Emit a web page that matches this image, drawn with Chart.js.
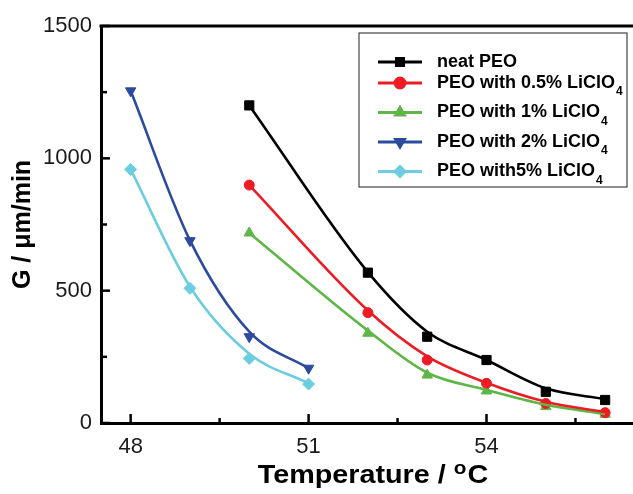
<!DOCTYPE html>
<html>
<head>
<meta charset="utf-8">
<script src="https://cdn.jsdelivr.net/npm/chart.js@4.4.0/dist/chart.umd.min.js"></script>
<style>
  html, body { margin: 0; padding: 0; background: #fff; }
  #wrap { width: 633px; height: 494px; }
</style>
</head>
<body>
<div id="wrap"><canvas id="growth"></canvas></div>
<script>
// spherulite growth rate G (um/min) vs crystallization temperature
// *G = measured points, *Fit = smoothed curve read at the same temperatures
const neatT = [50, 52, 53, 54, 55, 56];
const neatG = [1200, 568, 326, 238, 118, 87];
const neatFit = [1200, 570, 345, 238, 131, 90];
const li05T = [50, 52, 53, 54, 55, 56];
const li05G = [899, 417, 238, 150, 74, 39];
const li05Fit = [899, 425, 252, 152, 80, 41];
const li1T = [50, 52, 53, 54, 55, 56];
const li1G = [718, 339, 181, 121, 62, 33];
const li1Fit = [718, 349, 190, 125, 69, 34];
const li2T = [48, 49, 50, 51];
const li2G = [1255, 689, 326, 207];
const li2Fit = [1255, 690, 345, 207];
const li5T = [48, 49, 50, 51];
const li5G = [958, 509, 244, 147];
const li5Fit = [958, 515, 262, 150];

const xTicks = [48, 49.5, 51, 52.5, 54, 55.5];
const xLabels = [48, 51, 54];
const yTicks = [0, 250, 500, 750, 1000, 1250, 1500];
const yLabels = [0, 500, 1000, 1500];

function pts(xs, ys) {
  return xs.map((x, i) => ({ x: x, y: ys[i] }));
}

function fitLine(label, xs, ys, color) {
  return {
    label: label + ' fit',
    data: pts(xs, ys),
    borderColor: color,
    borderWidth: 2.6,
    pointRadius: 0,
    cubicInterpolationMode: 'monotone',
    fill: false,
    isFit: true
  };
}

function markers(label, xs, ys, color, style, rotation, radius) {
  return {
    label: label,
    data: pts(xs, ys),
    borderColor: color,
    backgroundColor: color,
    showLine: false,
    pointStyle: style,
    pointRotation: rotation,
    pointRadius: radius,
    pointBorderWidth: 1
  };
}

const datasets = [
  fitLine('neat PEO', neatT, neatFit, '#000000'),
  fitLine('PEO with 0.5% LiClO₄', li05T, li05Fit, '#ec1c24'),
  fitLine('PEO with 1% LiClO₄', li1T, li1Fit, '#5db645'),
  fitLine('PEO with 2% LiClO₄', li2T, li2Fit, '#2c4a9e'),
  fitLine('PEO with5% LiClO₄', li5T, li5Fit, '#6ccde0'),
  markers('neat PEO', neatT, neatG, '#000000', 'rect', 0, 6.5),
  markers('PEO with 0.5% LiClO₄', li05T, li05G, '#ec1c24', 'circle', 0, 5),
  markers('PEO with 1% LiClO₄', li1T, li1G, '#5db645', 'triangle', 0, 6),
  markers('PEO with 2% LiClO₄', li2T, li2G, '#2c4a9e', 'triangle', 180, 6),
  markers('PEO with5% LiClO₄', li5T, li5G, '#6ccde0', 'rectRot', 0, 6)
];

// inward ticks, top frame line, x title with superscript and boxed legend
const frame = {
  id: 'frame',
  afterDraw(chart) {
    const ctx = chart.ctx;
    const area = chart.chartArea;
    const xs = chart.scales.x;
    const ys = chart.scales.y;
    ctx.save();
    ctx.strokeStyle = '#000';
    ctx.lineWidth = 3;
    ctx.beginPath();
    ctx.moveTo(area.left - 1.5, area.top);
    ctx.lineTo(area.right, area.top);
    ctx.stroke();

    ctx.lineWidth = 2.5;
    xTicks.forEach(v => {
      const px = xs.getPixelForValue(v);
      const len = xLabels.includes(v) ? 9 : 5;
      ctx.beginPath();
      ctx.moveTo(px, area.bottom);
      ctx.lineTo(px, area.bottom - len);
      ctx.stroke();
    });
    yTicks.forEach(v => {
      const py = ys.getPixelForValue(v);
      const len = yLabels.includes(v) ? 9 : 6;
      ctx.beginPath();
      ctx.moveTo(area.left, py);
      ctx.lineTo(area.left + len, py);
      ctx.stroke();
    });

    // x axis title
    ctx.fillStyle = '#000';
    ctx.textBaseline = 'alphabetic';
    ctx.textAlign = 'left';
    const big = 'bold 25px Arial, "Liberation Sans", sans-serif';
    const small = 'bold 18px Arial, "Liberation Sans", sans-serif';
    ctx.font = big;
    const w1 = ctx.measureText('Temperature / ').width;
    const w3 = ctx.measureText('C').width;
    ctx.font = small;
    const w2 = ctx.measureText('o').width;
    const sx = 1.15;
    const total = (w1 + w2 + 1 + w3) * sx;
    const cx = (area.left + area.right) / 2 + 6;
    ctx.translate(cx - total / 2, 483);
    ctx.scale(sx, 1);
    ctx.font = big;
    ctx.fillText('Temperature / ', 0, 0);
    ctx.font = small;
    ctx.fillText('o', w1, -9);
    ctx.font = big;
    ctx.fillText('C', w1 + w2 + 1, 0);
    ctx.restore();

    // legend
    ctx.save();
    const bx = area.right - 274, by = area.top + 7, bw = 268, bh = 154;
    ctx.fillStyle = '#fff';
    ctx.fillRect(bx, by, bw, bh);
    ctx.strokeStyle = '#444';
    ctx.lineWidth = 1.2;
    ctx.strokeRect(bx, by, bw, bh);
    let ry = by + 29;
    chart.data.datasets.filter(ds => !ds.isFit).forEach(ds => {
      const hasSub = ds.label.endsWith('₄');
      const text = hasSub ? ds.label.slice(0, -1) : ds.label;
      ctx.strokeStyle = ds.borderColor;
      ctx.fillStyle = ds.borderColor;
      ctx.lineWidth = 3;
      ctx.beginPath();
      ctx.moveTo(bx + 19, ry);
      ctx.lineTo(bx + 63, ry);
      ctx.stroke();
      Chart.helpers.drawPoint(ctx, {
        pointStyle: ds.pointStyle,
        rotation: ds.pointRotation,
        radius: 5,
        borderWidth: 1
      }, bx + 41, ry);
      ctx.fillStyle = '#000';
      ctx.font = 'bold 18px Arial, "Liberation Sans", sans-serif';
      ctx.textBaseline = 'middle';
      ctx.textAlign = 'left';
      ctx.fillText(text, bx + 78, ry);
      if (hasSub) {
        const tw = ctx.measureText(text).width;
        ctx.font = 'bold 12px Arial, "Liberation Sans", sans-serif';
        ctx.fillText('4', bx + 79 + tw, ry + 9);
      }
      ry += hasSub ? 29.5 : 21;
    });
    ctx.restore();
  }
};

new Chart(document.getElementById('growth'), {
  type: 'line',
  data: { datasets: datasets },
  options: {
    responsive: true,
    maintainAspectRatio: false,
    animation: false,
    layout: { autoPadding: false, padding: { top: 26, right: 0, left: 0, bottom: 0 } },
    plugins: {
      legend: { display: false },
      tooltip: { enabled: false }
    },
    scales: {
      x: {
        type: 'linear',
        min: 47.5,
        max: 56.47,
        afterBuildTicks: s => { s.ticks = xTicks.map(v => ({ value: v })); },
        afterFit: s => { s.height = 71; s.paddingLeft = 0; s.paddingRight = 0; },
        grid: { display: false, drawTicks: false },
        border: { display: true, color: '#000', width: 3 },
        ticks: {
          padding: 11,
          color: '#1a1a1a',
          font: { family: 'Arial, "Liberation Sans", sans-serif', size: 22 },
          callback: v => xLabels.includes(v) ? String(v) : ''
        }
      },
      y: {
        min: 0,
        max: 1500,
        afterBuildTicks: s => { s.ticks = yTicks.map(v => ({ value: v })); },
        afterFit: s => { s.width = 101; },
        grid: { display: false, drawTicks: false },
        border: { display: true, color: '#000', width: 3 },
        title: {
          display: true,
          text: 'G / μm/min',
          color: '#000',
          font: { family: 'Arial, "Liberation Sans", sans-serif', size: 25, weight: 'bold' },
          padding: { top: 8, bottom: 0 }
        },
        ticks: {
          padding: 9,
          color: '#1a1a1a',
          font: { family: 'Arial, "Liberation Sans", sans-serif', size: 22 },
          callback: v => yLabels.includes(v) ? String(v) : ''
        }
      }
    }
  },
  plugins: [frame]
});
</script>
</body>
</html>
